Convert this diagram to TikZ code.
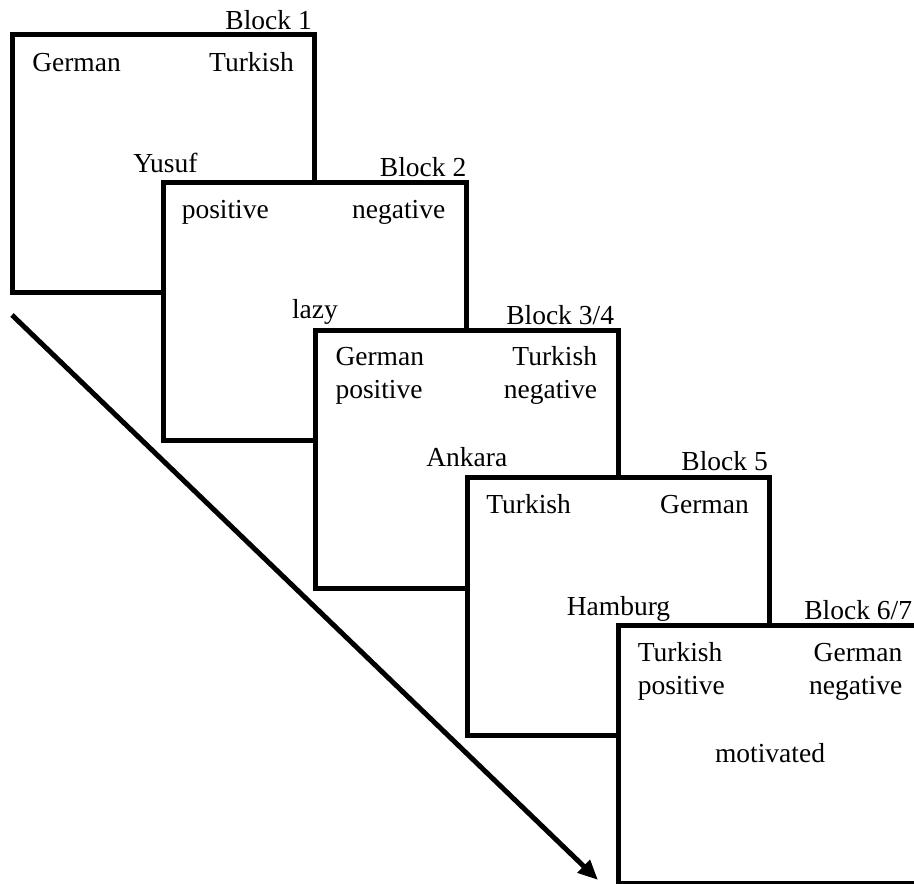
\documentclass[tikz,border=0pt]{standalone}
\usepackage{fontspec}
\setmainfont{Liberation Serif}
\usetikzlibrary{calc,arrows.meta}
\begin{document}
\begin{tikzpicture}[x=1pt,y=-1pt,
  blockbox/.style={draw=black,fill=white,line width=5pt,minimum width=302.5pt,minimum height=258pt,inner sep=0pt,outer sep=0pt},
  lbl/.style={inner sep=0pt,outer sep=0pt,font=\fontsize{27.5}{33}\selectfont},
  tl/.style={lbl,anchor=base west},
  tr/.style={lbl,anchor=base east},
  mid/.style={lbl,anchor=base},
  timearrow/.style={line width=5pt,-{Triangle[length=20pt,width=17pt]}}]
\useasboundingbox (0,0) rectangle (914,884);
\clip (0,0) rectangle (914,884);
% Block 1
\node[blockbox] (b1) at (163.5,163.5) {};
\node[tr] (h1) at ($(b1.north east)+(-3,-5)$) {Block 1};
\node[tl] (l1) at ($(b1.north west)+(20,37)$) {German};
\node[tr] (r1) at ($(b1.north east)+(-21,37)$) {Turkish};
\node[mid] (m1) at ($(b1.north)+(2,138)$) {Yusuf};
% Block 2
\node[blockbox] (b2) at (315,311) {};
\node[tr] (h2) at ($(b2.north east)+(0,-6)$) {Block 2};
\node[tl] (l2) at ($(b2.north west)+(18,36)$) {positive};
\node[tr] (r2) at ($(b2.north east)+(-21,36)$) {negative};
\node[mid] (m2) at ($(b2.north)+(0,136)$) {lazy};
% Block 3/4
\node[blockbox] (b3) at (466.75,459.5) {};
\node[tr] (h3) at ($(b3.north east)+(-4,-6)$) {Block 3/4};
\node[tl] (l3a) at ($(b3.north west)+(20,35)$) {German};
\node[tl] (l3b) at ($(b3.north west)+(20,68)$) {positive};
\node[tr] (r3a) at ($(b3.north east)+(-21,35)$) {Turkish};
\node[tr] (r3b) at ($(b3.north east)+(-21,68)$) {negative};
\node[mid] (m3) at ($(b3.north)+(0,136)$) {Ankara};
% Block 5
\node[blockbox] (b4) at (618.5,606) {};
\node[tr] (h4) at ($(b4.north east)+(-2,-7)$) {Block 5};
\node[tl] (l4) at ($(b4.north west)+(19,36)$) {Turkish};
\node[tr] (r4) at ($(b4.north east)+(-21,36)$) {German};
\node[mid] (m4) at ($(b4.north)+(0,138)$) {Hamburg};
% Block 6/7
\node[blockbox] (b5) at (770,754) {};
\node[tr] (h5) at (912,619) {Block 6/7};
\node[tl] (l5a) at ($(b5.north west)+(19,36)$) {Turkish};
\node[tl] (l5b) at ($(b5.north west)+(19,69)$) {positive};
\node[tr] (r5a) at ($(b5.north east)+(-19,36)$) {German};
\node[tr] (r5b) at ($(b5.north east)+(-19,69)$) {negative};
\node[mid] (m5) at ($(b5.north)+(0,137)$) {motivated};
% time arrow
\coordinate (as) at (12,315);
\coordinate (ae) at (598,880);
\draw[timearrow] (as) -- (ae);
\end{tikzpicture}
\end{document}
